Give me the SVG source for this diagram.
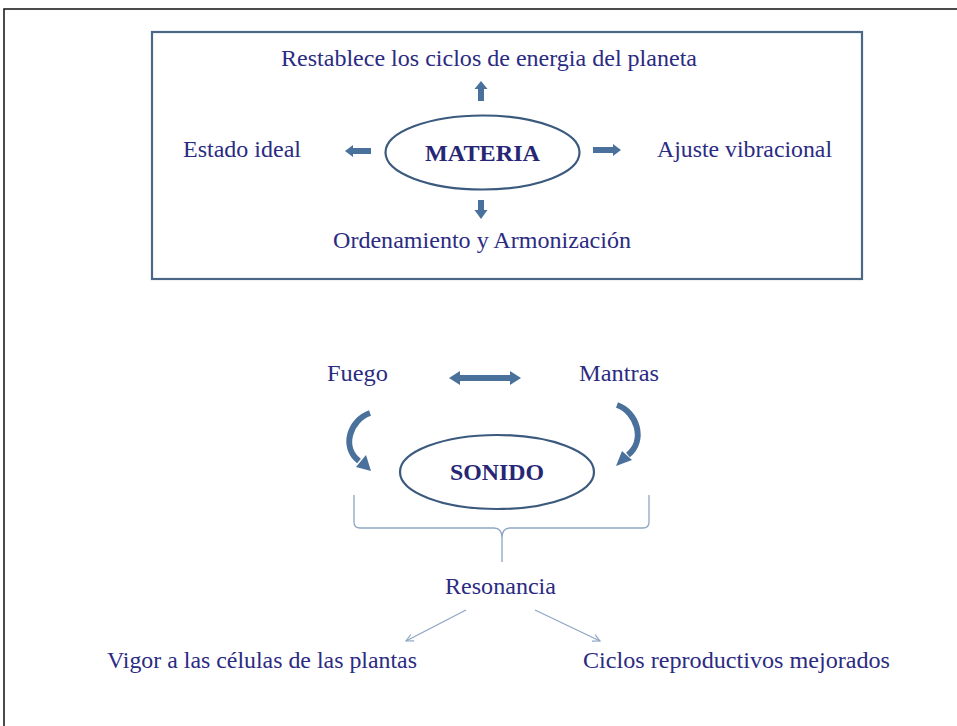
<svg xmlns="http://www.w3.org/2000/svg" width="957" height="726" viewBox="0 0 957 726">
<defs>
<style>
text{font-family:'Liberation Serif','Times New Roman','DejaVu Serif',serif;font-size:23px;fill:#2b2b82}
.b{font-weight:bold;fill:#262675}
.arr{fill:#4a719c}
.thin{stroke:#8ea6c4;stroke-width:1.3;fill:none}
.ell{fill:none;stroke:#3b5a7e;stroke-width:2.2}
</style>
<marker id="open" viewBox="0 0 10 10" refX="9" refY="5" markerWidth="9" markerHeight="9" orient="auto" markerUnits="userSpaceOnUse">
<path d="M1,1 L9,5 L1,9" fill="none" stroke="#8ea6c4" stroke-width="1.3"/>
</marker>
</defs>
<rect x="0" y="0" width="957" height="726" fill="#fff"/>
<rect x="4" y="9" width="970" height="740" fill="none" stroke="#111" stroke-width="1.5"/>
<rect x="152" y="32" width="710" height="247" fill="none" stroke="#4a6786" stroke-width="2.2"/>

<g font-family="Liberation Serif, serif">
<g id="materia">
<ellipse class="ell" cx="482.5" cy="152.5" rx="97" ry="37"/>
<text class="b" x="482.5" y="161" text-anchor="middle" textLength="115" lengthAdjust="spacingAndGlyphs">MATERIA</text>
</g>
<g id="restablece"><text x="281" y="66" textLength="416" lengthAdjust="spacingAndGlyphs">Restablece los ciclos de energia del planeta</text></g>
<g id="estado"><text x="183" y="157" textLength="118" lengthAdjust="spacingAndGlyphs">Estado ideal</text></g>
<g id="ajuste"><text x="657" y="157" textLength="175" lengthAdjust="spacingAndGlyphs">Ajuste vibracional</text></g>
<g id="ordenamiento"><text x="333" y="248" textLength="298" lengthAdjust="spacingAndGlyphs">Ordenamiento y Armonización</text></g>

<g id="sonido">
<ellipse class="ell" cx="497" cy="472" rx="97" ry="37"/>
<text class="b" x="497" y="480" text-anchor="middle" textLength="94" lengthAdjust="spacingAndGlyphs">SONIDO</text>
</g>
<g id="fuego"><text x="327" y="381" textLength="61" lengthAdjust="spacingAndGlyphs">Fuego</text></g>
<g id="mantras"><text x="579" y="381" textLength="80" lengthAdjust="spacingAndGlyphs">Mantras</text></g>
<g id="resonancia"><text x="445" y="594" textLength="111" lengthAdjust="spacingAndGlyphs">Resonancia</text></g>
<g id="vigor"><text x="107" y="668" textLength="310" lengthAdjust="spacingAndGlyphs">Vigor a las células de las plantas</text></g>
<g id="ciclos"><text x="583" y="668" textLength="307" lengthAdjust="spacingAndGlyphs">Ciclos reproductivos mejorados</text></g>
</g>

<g id="connectors">
<polygon class="arr" points="481,81 487.5,89 484,89 484,101 478,101 478,89 474.5,89"/>
<polygon class="arr" points="481,219 487.5,210 484,210 484,200 478,200 478,210 474.5,210"/>
<polygon class="arr" points="345,151 353,145 353,148 371,148 371,154 353,154 353,157"/>
<polygon class="arr" points="621,150 613,144 613,147 593,147 593,153 613,153 613,156"/>
<polygon class="arr" points="449,378 460,371 460,375 510,375 510,381 460,381 460,385"/>
<polygon class="arr" points="521,378 510,371 510,385"/>
<path d="M370,413 C350,420 341,447 359,461" fill="none" stroke="#4a719c" stroke-width="6"/>
<polygon class="arr" points="371,471 356,467 366,455"/>
<path d="M617,405 C637,412 646,440 628,455" fill="none" stroke="#4a719c" stroke-width="6"/>
<polygon class="arr" points="616,466 622,451 632,460"/>
<path class="thin" d="M354,495 L354,522 Q354,528 360,528 L494,528 Q502,528 502,538 L502,562 M502,538 Q502,528 510,528 L643,528 Q649,528 649,522 L649,495"/>
<line class="thin" x1="466" y1="610" x2="406" y2="641" marker-end="url(#open)"/>
<line class="thin" x1="535" y1="610" x2="600" y2="641" marker-end="url(#open)"/>
</g>
</svg>
